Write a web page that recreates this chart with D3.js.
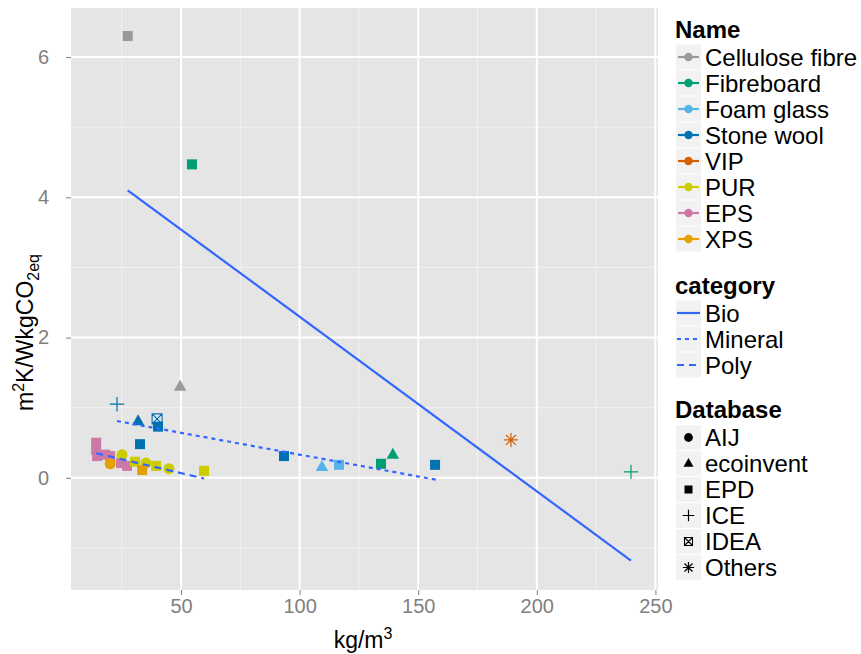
<!DOCTYPE html>
<html>
<head>
<meta charset="utf-8">
<script src="https://cdn.jsdelivr.net/npm/d3@7"></script>
<style>
  body { margin: 0; background: #ffffff; }
  svg { display: block; font-family: "Liberation Sans", Arial, sans-serif; }
</style>
</head>
<body>
<svg id="chart" width="861" height="654"></svg>
<script>
// ---------- data ----------
const names = ["Cellulose fibre", "Fibreboard", "Foam glass", "Stone wool", "VIP", "PUR", "EPS", "XPS"];
const nameColors = ["#999999", "#009E73", "#56B4E9", "#0072B2", "#D55E00", "#CCCC00", "#CC79A7", "#E69F00"];
const categories = ["Bio", "Mineral", "Poly"];
const categoryDash = ["", "4,4", "7,5"];
const databases = ["AIJ", "ecoinvent", "EPD", "ICE", "IDEA", "Others"];
const xTicks = [50, 100, 150, 200, 250];
const yTicks = [0, 2, 4, 6];
const xMinor = [25, 75, 125, 175, 225];
const yMinor = [-1, 1, 3, 5];

// points: name, database, density (kg/m3), value
const pointName = [
  "Cellulose fibre", "Cellulose fibre",
  "Fibreboard", "Fibreboard", "Fibreboard", "Fibreboard",
  "Foam glass", "Foam glass",
  "Stone wool", "Stone wool", "Stone wool", "Stone wool", "Stone wool", "Stone wool", "Stone wool",
  "VIP",
  "EPS", "EPS", "EPS", "EPS", "EPS", "EPS", "EPS",
  "XPS",
  "PUR", "PUR", "PUR", "PUR", "PUR", "PUR",
  "XPS"
];
const pointDb = [
  "EPD", "ecoinvent",
  "EPD", "EPD", "ecoinvent", "ICE",
  "ecoinvent", "EPD",
  "ICE", "ecoinvent", "IDEA", "EPD", "EPD", "EPD", "EPD",
  "Others",
  "EPD", "EPD", "EPD", "EPD", "EPD", "EPD", "EPD",
  "AIJ",
  "AIJ", "EPD", "AIJ", "EPD", "AIJ", "EPD",
  "EPD"
];
const pointX = [
  27.5, 49.6,
  54.6, 134.3, 139.3, 239.7,
  109.4, 116.6,
  23.0, 31.9, 39.9, 40.3, 32.7, 93.4, 157.1,
  189.1,
  14.2, 14.2, 14.6, 18.0, 20.1, 24.7, 27.2,
  20.1,
  25.1, 30.6, 35.2, 39.5, 44.9, 59.7,
  33.6
];
const pointY = [
  6.30, 1.30,
  4.47, 0.20, 0.33, 0.085,
  0.157, 0.185,
  1.05, 0.81, 0.84, 0.73, 0.48, 0.31, 0.185,
  0.54,
  0.50, 0.40, 0.31, 0.33, 0.31, 0.21, 0.17,
  0.20,
  0.33, 0.23, 0.21, 0.17, 0.13, 0.10,
  0.11
];

// linear fits per category (start and end of fitted line)
const fitX1 = [27.5, 23.0, 14.2];
const fitY1 = [4.10, 0.81, 0.35];
const fitX2 = [239.7, 157.9, 59.7];
const fitY2 = [-1.18, -0.03, -0.01];

// ---------- layout ----------
const svg = d3.select("#chart");
const P = { left: 71, right: 658, top: 8, bottom: 590 };
const x = d3.scaleLinear().domain([3.6, 251.1]).range([P.left, P.right]);
const y = d3.scaleLinear().domain([-1.6, 6.7]).range([P.bottom, P.top]);
const colorOf = d3.scaleOrdinal().domain(names).range(nameColors);

// panel
svg.append("rect").attr("x", P.left).attr("y", P.top)
  .attr("width", P.right - P.left).attr("height", P.bottom - P.top)
  .attr("fill", "#E5E5E5");

const grid = svg.append("g");
grid.selectAll(".vmin").data(xMinor).enter().append("line")
  .attr("x1", d => x(d)).attr("x2", d => x(d)).attr("y1", P.top).attr("y2", P.bottom)
  .attr("stroke", "#F2F2F2").attr("stroke-width", 1);
grid.selectAll(".hmin").data(yMinor).enter().append("line")
  .attr("y1", d => y(d)).attr("y2", d => y(d)).attr("x1", P.left).attr("x2", P.right)
  .attr("stroke", "#F2F2F2").attr("stroke-width", 1);
grid.selectAll(".vmaj").data(xTicks).enter().append("line")
  .attr("x1", d => x(d)).attr("x2", d => x(d)).attr("y1", P.top).attr("y2", P.bottom)
  .attr("stroke", "#FFFFFF").attr("stroke-width", 2);
grid.selectAll(".hmaj").data(yTicks).enter().append("line")
  .attr("y1", d => y(d)).attr("y2", d => y(d)).attr("x1", P.left).attr("x2", P.right)
  .attr("stroke", "#FFFFFF").attr("stroke-width", 2);

// axes
const xAxis = svg.append("g").attr("transform", `translate(0,${P.bottom})`)
  .call(d3.axisBottom(x).tickValues(xTicks).tickSize(5).tickPadding(4));
const yAxis = svg.append("g").attr("transform", `translate(${P.left},0)`)
  .call(d3.axisLeft(y).tickValues(yTicks).tickSize(5).tickPadding(17));
[xAxis, yAxis].forEach(a => {
  a.select(".domain").remove();
  a.selectAll(".tick line").attr("stroke", "#7F7F7F");
  a.selectAll(".tick text").attr("fill", "#7F7F7F")
    .style("font-size", "20px").style("font-family", '"Liberation Sans", Arial, sans-serif');
});

// shapes
function drawShape(g, db, color, s) {
  if (db === "AIJ") {
    g.append("circle").attr("r", s * 0.55).attr("fill", color);
  } else if (db === "ecoinvent") {
    const h = s * 1.1, w = s * 1.25;
    g.append("path").attr("d", `M0,${-h * 0.62} L${w / 2},${h * 0.38} L${-w / 2},${h * 0.38} Z`).attr("fill", color);
  } else if (db === "EPD") {
    g.append("rect").attr("x", -s / 2).attr("y", -s / 2).attr("width", s).attr("height", s).attr("fill", color);
  } else if (db === "ICE") {
    const r = s * 0.72;
    g.append("path").attr("d", `M${-r},0 H${r} M0,${-r} V${r}`).attr("stroke", color).attr("stroke-width", 1.2).attr("fill", "none");
  } else if (db === "IDEA") {
    const r = s * 0.5;
    g.append("path").attr("d", `M${-r},${-r} H${r} V${r} H${-r} Z M${-r},${-r} L${r},${r} M${r},${-r} L${-r},${r}`)
      .attr("stroke", color).attr("stroke-width", 1.1).attr("fill", "none");
  } else if (db === "Others") {
    const r = s * 0.7, d = r * 0.707;
    g.append("path").attr("d", `M${-r},0 H${r} M0,${-r} V${r} M${-d},${-d} L${d},${d} M${d},${-d} L${-d},${d}`)
      .attr("stroke", color).attr("stroke-width", 1.2).attr("fill", "none");
  }
}

const pts = svg.append("g");
pointX.forEach((px, i) => {
  const g = pts.append("g").attr("transform", `translate(${x(px)},${y(pointY[i])})`);
  drawShape(g, pointDb[i], colorOf(pointName[i]), 10);
});

// fitted lines
const fits = svg.append("g");
categories.forEach((c, i) => {
  fits.append("line")
    .attr("x1", x(fitX1[i])).attr("y1", y(fitY1[i]))
    .attr("x2", x(fitX2[i])).attr("y2", y(fitY2[i]))
    .attr("stroke", "#3366FF").attr("stroke-width", 2.2)
    .attr("stroke-dasharray", categoryDash[i] || null);
});

// axis titles
const xt = svg.append("text").attr("x", 363).attr("y", 648).attr("text-anchor", "middle")
  .style("font-size", "23px").attr("fill", "#000");
xt.append("tspan").text("kg/m");
xt.append("tspan").text("3").style("font-size", "16px").attr("dy", -9);

const yt = svg.append("text").attr("transform", "translate(33,411) rotate(-90)").attr("text-anchor", "start")
  .style("font-size", "23px").attr("fill", "#000");
yt.append("tspan").text("m");
yt.append("tspan").text("2").style("font-size", "16px").attr("dy", -9);
yt.append("tspan").text("K/WkgCO").attr("dy", 9);
yt.append("tspan").text("2eq").style("font-size", "16px").attr("dy", 6);

// ---------- legends ----------
const L = svg.append("g");
const keyX = 676, keyW = 25, keyH = 25, step = 26, labX = 705;
function title(t, yy) {
  L.append("text").attr("x", keyX - 1).attr("y", yy).text(t)
    .style("font-size", "24px").style("font-weight", "bold").attr("fill", "#000")
    .attr("dominant-baseline", "central");
}
function label(t, yy) {
  L.append("text").attr("x", labX).attr("y", yy).text(t)
    .style("font-size", "24px").attr("fill", "#000").attr("dominant-baseline", "central");
}
function key(yy) {
  L.append("rect").attr("x", keyX).attr("y", yy - keyH / 2).attr("width", keyW).attr("height", keyH).attr("fill", "#F2F2F2");
}

title("Name", 29);
names.forEach((n, i) => {
  const yy = 57 + i * step;
  key(yy);
  L.append("line").attr("x1", keyX + 2).attr("x2", keyX + keyW - 2).attr("y1", yy).attr("y2", yy)
    .attr("stroke", colorOf(n)).attr("stroke-width", 2.2);
  L.append("circle").attr("cx", keyX + keyW / 2).attr("cy", yy).attr("r", 4.2).attr("fill", colorOf(n));
  label(n, yy);
});

title("category", 285);
categories.forEach((c, i) => {
  const yy = 313 + i * step;
  key(yy);
  L.append("line").attr("x1", keyX + 1).attr("x2", keyX + keyW - 1).attr("y1", yy).attr("y2", yy)
    .attr("stroke", "#3366FF").attr("stroke-width", 2.2)
    .attr("stroke-dasharray", categoryDash[i] || null);
  label(c, yy);
});

title("Database", 409);
databases.forEach((d, i) => {
  const yy = 437.5 + i * step;
  key(yy);
  const g = L.append("g").attr("transform", `translate(${keyX + keyW / 2},${yy})`);
  drawShape(g, d, "#000", 8);
  label(d, yy);
});
</script>
</body>
</html>
